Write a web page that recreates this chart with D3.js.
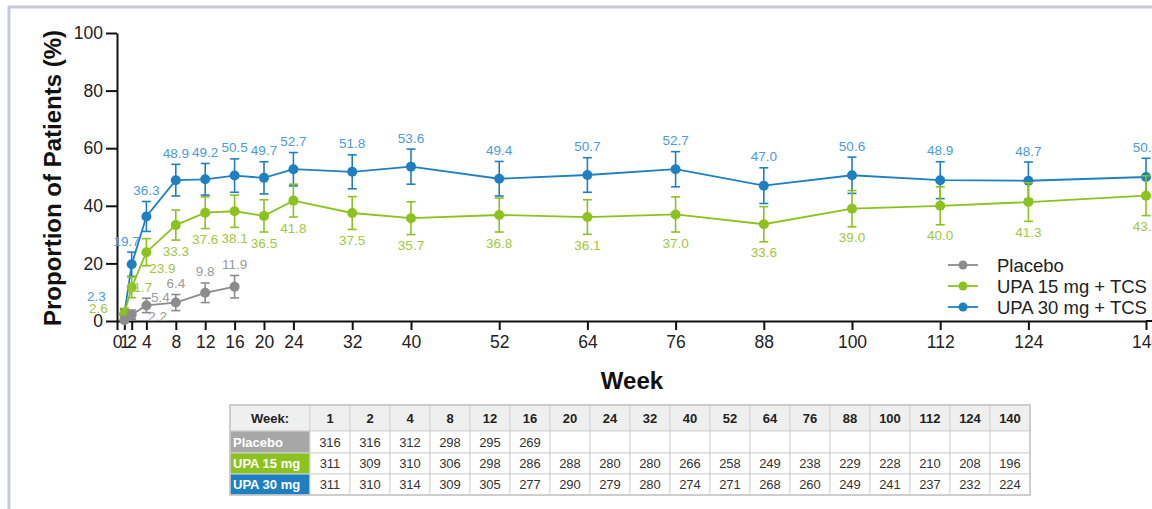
<!DOCTYPE html>
<html>
<head>
<meta charset="utf-8">
<script src="https://cdn.jsdelivr.net/npm/d3@7"></script>
<style>
  html, body { margin: 0; padding: 0; background: #fff; }
  svg { display: block; font-family: "Liberation Sans", Arial, sans-serif; }
</style>
</head>
<body>
<svg id="chart" width="1152" height="509"></svg>
<script>
// Study weeks on the x axis
const tickWeeks = [0, 1, 2, 4, 8, 12, 16, 20, 24, 32, 40, 52, 64, 76, 88, 100, 112, 124, 140];
const weeksAll = [1, 2, 4, 8, 12, 16, 20, 24, 32, 40, 52, 64, 76, 88, 100, 112, 124, 140];
const weeksPlacebo = [1, 2, 4, 8, 12, 16];

// Proportion of patients (%) and 95% CI half-widths
const placeboValues = [0.3, 2.2, 5.4, 6.4, 9.8, 11.9];
const placeboErr = [0.6, 1.6, 2.5, 2.8, 3.4, 3.9];
const placeboLabels = [null, "2.2", "5.4", "6.4", "9.8", "11.9"];

const upa15Values = [2.6, 11.7, 23.9, 33.3, 37.6, 38.1, 36.5, 41.8, 37.5, 35.7, 36.8, 36.1, 37.0, 33.6, 39.0, 40.0, 41.3, 43.5];
const upa15Err = [1.8, 3.6, 4.7, 5.2, 5.5, 5.6, 5.6, 5.7, 5.7, 5.7, 5.9, 6.0, 6.1, 6.1, 6.3, 6.6, 6.7, 6.9];

const upa30Values = [2.3, 19.7, 36.3, 48.9, 49.2, 50.5, 49.7, 52.7, 51.8, 53.6, 49.4, 50.7, 52.7, 47.0, 50.6, 48.9, 48.7, 50.0];
const upa30Err = [1.7, 4.2, 5.2, 5.5, 5.5, 5.8, 5.6, 5.8, 5.9, 6.1, 6.0, 6.0, 6.1, 6.2, 6.3, 6.4, 6.5, 6.5];

const yTicks = [0, 20, 40, 60, 80, 100];

// Patients at each visit
const tableWeeks = ["1", "2", "4", "8", "12", "16", "20", "24", "32", "40", "52", "64", "76", "88", "100", "112", "124", "140"];
const nPlacebo = ["316", "316", "312", "298", "295", "269", "", "", "", "", "", "", "", "", "", "", "", ""];
const nUpa15 = ["311", "309", "310", "306", "298", "286", "288", "280", "280", "266", "258", "249", "238", "229", "228", "210", "208", "196"];
const nUpa30 = ["311", "310", "314", "309", "305", "277", "290", "279", "280", "274", "271", "268", "260", "249", "241", "237", "232", "224"];

const svg = d3.select("#chart");
const W = 1152, H = 509;

// Frame
svg.append("path")
  .attr("d", `M9,${H} L9,7 L${W},7`)
  .attr("fill", "none").attr("stroke", "#c7c9da").attr("stroke-width", 3);

const x = d3.scaleLinear().domain([0, 140]).range([117, 1146]);
const y = d3.scaleLinear().domain([0, 100]).range([321, 33]);

const colors = {
  placebo: { line: "#8c8c8c", label: "#9a9a9a" },
  upa15: { line: "#8cc21e", label: "#a2c63e" },
  upa30: { line: "#1e80c1", label: "#4a9bd6" }
};

// Axes
const yAxis = svg.append("g")
  .attr("transform", `translate(${x(0)},0)`)
  .call(d3.axisLeft(y).tickValues(yTicks).tickSize(11).tickSizeOuter(0).tickPadding(3));
yAxis.selectAll("path, line").attr("stroke", "#111").attr("stroke-width", 2);
yAxis.selectAll("text").attr("font-size", 17.5).attr("fill", "#222");

const xAxis = svg.append("g")
  .attr("transform", `translate(0,${y(0)})`)
  .call(d3.axisBottom(x).tickValues(tickWeeks).tickSize(9).tickSizeOuter(0).tickPadding(6));
xAxis.selectAll("path, line").attr("stroke", "#111").attr("stroke-width", 2);
xAxis.selectAll("text").attr("font-size", 17.5).attr("fill", "#222");
xAxis.append("line")
  .attr("x1", x(140)).attr("x2", W).attr("y1", 0).attr("y2", 0)
  .attr("stroke", "#111").attr("stroke-width", 2);

// Axis titles
svg.append("text")
  .attr("transform", `translate(61,178) rotate(-90)`)
  .attr("text-anchor", "middle")
  .attr("font-size", 24).attr("font-weight", "bold").attr("fill", "#111")
  .text("Proportion of Patients (%)");
svg.append("text")
  .attr("x", 632).attr("y", 389)
  .attr("text-anchor", "middle")
  .attr("font-size", 24).attr("font-weight", "bold").attr("fill", "#111")
  .text("Week");

// Series
const series = [
  { key: "upa30", weeks: weeksAll, values: upa30Values, err: upa30Err,
    labels: upa30Values.map(v => v.toFixed(1)), side: "above" },
  { key: "upa15", weeks: weeksAll, values: upa15Values, err: upa15Err,
    labels: upa15Values.map(v => v.toFixed(1)), side: "below" },
  { key: "placebo", weeks: weeksPlacebo, values: placeboValues, err: placeboErr,
    labels: placeboLabels, side: "above" }
];

// Hand-placed labels where the early weeks crowd together (dx, dy from the point)
const labelNudge = {
  "upa30-1": [-28, -18],
  "upa30-2": [-5, null],
  "upa15-1": [-26, -5],
  "upa15-2": [8, 0],
  "upa15-4": [16, 16],
  "placebo-2": [26, 1.5],
  "placebo-4": [14, -8]
};

const line = d3.line().x(d => x(d.w)).y(d => y(d.v));

series.forEach(s => {
  const c = colors[s.key];
  const pts = s.weeks.map((w, i) => ({ w, v: s.values[i], e: s.err[i], label: s.labels[i] }));
  const g = svg.append("g");

  g.append("path").datum(pts)
    .attr("d", line).attr("fill", "none")
    .attr("stroke", c.line).attr("stroke-width", 1.8);

  const eb = g.selectAll(".eb").data(pts).enter().append("g");
  eb.append("line")
    .attr("x1", d => x(d.w)).attr("x2", d => x(d.w))
    .attr("y1", d => y(d.v + d.e)).attr("y2", d => y(d.v - d.e))
    .attr("stroke", c.line).attr("stroke-width", 1.6);
  [1, -1].forEach(sign => {
    eb.append("line")
      .attr("x1", d => x(d.w) - 4.5).attr("x2", d => x(d.w) + 4.5)
      .attr("y1", d => y(d.v + sign * d.e)).attr("y2", d => y(d.v + sign * d.e))
      .attr("stroke", c.line).attr("stroke-width", 1.6);
  });

  g.selectAll(".pt").data(pts).enter().append("circle")
    .attr("cx", d => x(d.w)).attr("cy", d => y(d.v)).attr("r", 5)
    .attr("fill", c.line);

  g.selectAll(".lbl").data(pts.filter(d => d.label)).enter().append("text")
    .attr("font-size", 13.5)
    .attr("fill", c.label)
    .attr("text-anchor", "middle")
    .attr("dominant-baseline", "central")
    .attr("x", d => {
      const n = labelNudge[`${s.key}-${d.w}`];
      return x(d.w) + (n ? n[0] : 0);
    })
    .attr("y", d => {
      const n = labelNudge[`${s.key}-${d.w}`];
      if (n && n[1] !== null) return y(d.v) + n[1];
      return s.side === "above" ? y(d.v + d.e) - 11 : y(d.v - d.e) + 11;
    })
    .text(d => d.label);
});

// Legend
const legendItems = [
  { key: "placebo", text: "Placebo" },
  { key: "upa15", text: "UPA 15 mg + TCS" },
  { key: "upa30", text: "UPA 30 mg + TCS" }
];
const lg = svg.append("g").attr("transform", "translate(948,265)");
legendItems.forEach((it, i) => {
  const row = lg.append("g").attr("transform", `translate(0,${i * 21})`);
  row.append("line").attr("x1", 0).attr("x2", 30).attr("y1", 0).attr("y2", 0)
    .attr("stroke", colors[it.key].line).attr("stroke-width", 1.8);
  row.append("circle").attr("cx", 15).attr("cy", 0).attr("r", 4.5).attr("fill", colors[it.key].line);
  row.append("text").attr("x", 49).attr("y", 0).attr("dominant-baseline", "central")
    .attr("font-size", 18.5).attr("fill", "#222").text(it.text);
});

// Patient-count table
const tbl = svg.append("g");
const colX0 = 230, firstW = 80, colW = 40;
const rowY = [405, 431, 453, 474, 495];
const rows = [
  { label: "Week:", cells: tableWeeks, head: true },
  { label: "Placebo", cells: nPlacebo, fill: "#a7a7a7" },
  { label: "UPA 15 mg", cells: nUpa15, fill: "#8cc21e" },
  { label: "UPA 30 mg", cells: nUpa30, fill: "#1e80c1" }
];
rows.forEach((r, ri) => {
  const y0 = rowY[ri], h = rowY[ri + 1] - rowY[ri], cy = y0 + h / 2;
  tbl.append("rect").attr("x", colX0).attr("y", y0).attr("width", firstW).attr("height", h)
    .attr("fill", r.head ? "#efefef" : r.fill).attr("stroke", "#d3d3d3").attr("stroke-width", 1);
  tbl.append("text")
    .attr("x", r.head ? colX0 + firstW / 2 : colX0 + 3).attr("y", cy)
    .attr("text-anchor", r.head ? "middle" : "start")
    .attr("dominant-baseline", "central")
    .attr("font-size", 13).attr("font-weight", "bold")
    .attr("fill", r.head ? "#222" : "#fff")
    .text(r.label);
  r.cells.forEach((v, ci) => {
    const cx0 = colX0 + firstW + ci * colW;
    tbl.append("rect").attr("x", cx0).attr("y", y0).attr("width", colW).attr("height", h)
      .attr("fill", r.head ? "#efefef" : "#fff").attr("stroke", "#d3d3d3").attr("stroke-width", 1);
    tbl.append("text").attr("x", cx0 + colW / 2).attr("y", cy)
      .attr("text-anchor", "middle").attr("dominant-baseline", "central")
      .attr("font-size", 13).attr("font-weight", r.head ? "bold" : "normal")
      .attr("fill", r.head ? "#222" : "#333")
      .text(v);
  });
});
tbl.append("rect").attr("x", colX0).attr("y", rowY[0])
  .attr("width", firstW + colW * tableWeeks.length).attr("height", rowY[4] - rowY[0])
  .attr("fill", "none").attr("stroke", "#c4c4c4").attr("stroke-width", 1.5);
</script>
</body>
</html>
